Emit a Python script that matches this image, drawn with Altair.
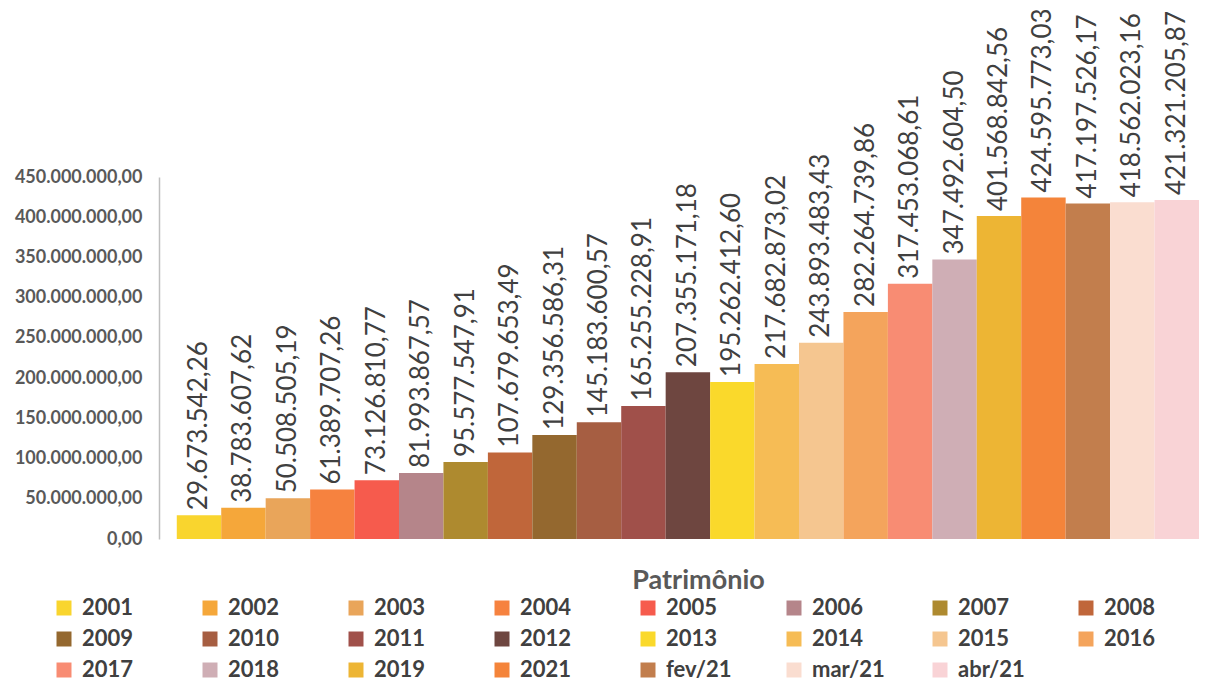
import altair as alt
import pandas as pd

categories = ["2001", "2002", "2003", "2004", "2005", "2006", "2007", "2008",
              "2009", "2010", "2011", "2012", "2013", "2014", "2015", "2016",
              "2017", "2018", "2019", "2021", "fev/21", "mar/21", "abr/21"]
values = [29673542.26, 38783607.62, 50508505.19, 61389707.26, 73126810.77,
          81993867.57, 95577547.91, 107679653.49, 129356586.31, 145183600.57,
          165255228.91, 207355171.18, 195262412.60, 217682873.02, 243893483.43,
          282264739.86, 317453068.61, 347492604.50, 401568842.56, 424595773.03,
          417197526.17, 418562023.16, 421321205.87]
labels = ["29.673.542,26", "38.783.607,62", "50.508.505,19", "61.389.707,26",
          "73.126.810,77", "81.993.867,57", "95.577.547,91", "107.679.653,49",
          "129.356.586,31", "145.183.600,57", "165.255.228,91", "207.355.171,18",
          "195.262.412,60", "217.682.873,02", "243.893.483,43", "282.264.739,86",
          "317.453.068,61", "347.492.604,50", "401.568.842,56", "424.595.773,03",
          "417.197.526,17", "418.562.023,16", "421.321.205,87"]
colors = ["#F9D52E", "#F5A73A", "#E9A55A", "#F6823F", "#F65B4D", "#B5858A",
          "#AE8A2F", "#C0663A", "#94682F", "#A65E42", "#A0504A", "#6E4640",
          "#FAD92B", "#F6BC55", "#F5C690", "#F4A45C", "#F88C73", "#CFAEB5",
          "#EDB534", "#F4843A", "#C27E4D", "#FADDD0", "#F9D3D6"]
y_ticks = [0, 50000000, 100000000, 150000000, 200000000, 250000000,
           300000000, 350000000, 400000000, 450000000]

df = pd.DataFrame({"cat": categories, "value": values, "label": labels})

x = alt.X("cat:N", sort=categories,
          scale=alt.Scale(paddingInner=0, paddingOuter=0.2, align=1),
          axis=alt.Axis(labels=False, ticks=False, domain=False,
                        title="Patrimônio", titleFont="Lato", titleFontSize=27,
                        titleFontWeight="bold", titleColor="#595959",
                        titleX=539, titleAlign="center",
                        titlePadding=28))
y = alt.Y("value:Q", scale=alt.Scale(domain=[0, 450000000], nice=False),
          axis=alt.Axis(values=y_ticks, title=None, grid=False, ticks=False,
                        domainColor="#BFBFBF", domainWidth=1.5,
                        labelOverlap=False, labelFlush=False,
                        labelFont="Lato", labelFontSize=18, labelFontWeight="bold",
                        labelColor="#595959", labelPadding=17,
                        labelExpr="replace(format(datum.value, ',d'), regexp(',', 'g'), '.') + ',00'"))

bars = alt.Chart(df).mark_bar().encode(
    x=x, y=y,
    color=alt.Color("cat:N", sort=categories,
                    scale=alt.Scale(domain=categories, range=colors),
                    legend=alt.Legend(title=None, orient="none", legendX=-106, legendY=420,
                                      columns=8, direction="horizontal",
                                      symbolType="square", symbolSize=225,
                                      symbolStrokeWidth=0, labelFont="Lato",
                                      labelFontSize=22, labelFontWeight="bold",
                                      labelColor="#404040", gridAlign="all",
                                      columnPadding=44, rowPadding=9, labelOffset=7))
)

texts = alt.Chart(df).mark_text(angle=270, align="left", baseline="middle", dx=5,
                                font="Lato", fontSize=26, color="#404040").encode(
    x=alt.X("cat:N", sort=categories), y="value:Q", text="label:N")

chart = (bars + texts).properties(
    width=1040, height=362,
    padding={"left": 6, "top": 0, "right": 0, "bottom": 0}
).configure_view(stroke=None)

chart.save("out.html", embed_options={"renderer": "svg", "actions": False})
